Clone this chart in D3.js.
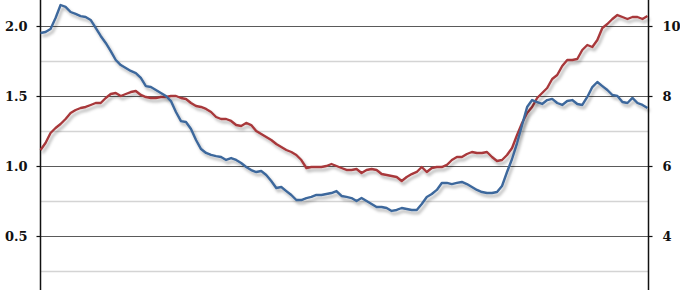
<!DOCTYPE html>
<html>
<head>
<meta charset="utf-8">
<script src="https://cdn.jsdelivr.net/npm/d3@7"></script>
<style>
  html, body { margin: 0; padding: 0; background: #fff; }
  svg { display: block; }
  .axis text { font-family: "DejaVu Serif", serif; font-weight: bold; font-size: 13px; fill: #111; }
</style>
</head>
<body>
<svg id="chart" width="680" height="290"></svg>
<script>
// Left-axis series (blue)
const blueSeries = [
  1.95, 1.957, 1.979, 2.057, 2.15, 2.136, 2.10, 2.086, 2.071, 2.064,
  2.043, 1.986, 1.929, 1.879, 1.821, 1.757, 1.721, 1.70, 1.679, 1.664,
  1.629, 1.571, 1.564, 1.543, 1.521, 1.50, 1.464, 1.386, 1.321, 1.314,
  1.264, 1.186, 1.121, 1.093, 1.079, 1.071, 1.064, 1.043, 1.057, 1.043,
  1.021, 0.993, 0.971, 0.957, 0.964, 0.936, 0.893, 0.843, 0.85, 0.821,
  0.793, 0.757, 0.757, 0.771, 0.779, 0.793, 0.793, 0.80, 0.807, 0.821,
  0.786, 0.779, 0.771, 0.75, 0.771, 0.75, 0.729, 0.707, 0.707, 0.70,
  0.679, 0.686, 0.70, 0.693, 0.686, 0.686, 0.729, 0.779, 0.80, 0.829,
  0.879, 0.879, 0.871, 0.879, 0.886, 0.871, 0.85, 0.829, 0.814, 0.807,
  0.807, 0.814, 0.857, 0.957, 1.05, 1.164, 1.293, 1.421, 1.471, 1.457,
  1.443, 1.471, 1.479, 1.45, 1.436, 1.464, 1.471, 1.443, 1.436, 1.493,
  1.564, 1.60, 1.571, 1.543, 1.507, 1.50, 1.457, 1.45, 1.486, 1.45,
  1.436, 1.414
];
// Right-axis series (red)
const redSeries = [
  6.457, 6.657, 6.943, 7.086, 7.20, 7.343, 7.514, 7.60, 7.657, 7.686,
  7.743, 7.80, 7.80, 7.943, 8.057, 8.086, 8.00, 8.057, 8.114, 8.143,
  8.029, 7.971, 7.943, 7.943, 7.971, 7.971, 8.00, 8.00, 7.943, 7.914,
  7.80, 7.714, 7.686, 7.629, 7.543, 7.40, 7.343, 7.343, 7.286, 7.171,
  7.143, 7.229, 7.171, 7.00, 6.914, 6.829, 6.743, 6.629, 6.543, 6.457,
  6.40, 6.314, 6.171, 5.943, 5.971, 5.971, 5.971, 6.00, 6.057, 6.00,
  5.943, 5.886, 5.886, 5.914, 5.80, 5.886, 5.914, 5.886, 5.771, 5.743,
  5.714, 5.686, 5.571, 5.686, 5.771, 5.829, 5.971, 5.829, 5.943, 5.971,
  5.971, 6.029, 6.171, 6.257, 6.257, 6.343, 6.40, 6.371, 6.371, 6.40,
  6.257, 6.143, 6.171, 6.314, 6.514, 6.886, 7.229, 7.514, 7.686, 7.943,
  8.086, 8.229, 8.486, 8.60, 8.857, 9.029, 9.029, 9.057, 9.314, 9.457,
  9.40, 9.60, 9.943, 10.057, 10.20, 10.314, 10.257, 10.20, 10.257, 10.257,
  10.20, 10.286
];
const leftTicks = [0.5, 1.0, 1.5, 2.0];
const rightTicks = [4, 6, 8, 10];
const gridValues = [0.25, 0.5, 0.75, 1.0, 1.25, 1.5, 1.75, 2.0];

const W = 680, H = 290;
const xLeft = 40.5, xRight = 648.5;
const svg = d3.select("#chart");

const defs = svg.append("defs");
const f = defs.append("filter").attr("id", "shadow")
  .attr("x", "-5%").attr("y", "-20%").attr("width", "110%").attr("height", "140%");
f.append("feDropShadow").attr("dx", 2).attr("dy", 3).attr("stdDeviation", 1.4)
  .attr("flood-color", "#000").attr("flood-opacity", 0.3);

const x = d3.scaleLinear().domain([0, blueSeries.length - 1]).range([xLeft, xRight - 1]);
const yL = d3.scaleLinear().domain([2.0, 0.5]).range([26, 236]);
const yR = d3.scaleLinear().domain([10, 4]).range([26, 236]);

// gridlines
svg.append("g").selectAll("line").data(gridValues).join("line")
  .attr("x1", xLeft).attr("x2", xRight)
  .attr("y1", d => Math.round(yL(d)) + 0.5).attr("y2", d => Math.round(yL(d)) + 0.5)
  .attr("stroke", d => (Math.abs(d * 2 - Math.round(d * 2)) < 1e-9) ? "#5a5a5a" : "#d4d4d4")
  .attr("stroke-width", d => (Math.abs(d * 2 - Math.round(d * 2)) < 1e-9) ? 1.2 : 1.5);

// axes
const axL = svg.append("g").attr("class", "axis").attr("transform", `translate(${xLeft},0)`)
  .call(d3.axisLeft(yL).tickValues(leftTicks).tickFormat(d3.format(".1f")).tickSize(4).tickPadding(9));
axL.select(".domain").remove();
axL.selectAll(".tick line").attr("stroke", "#111").attr("stroke-width", 1.2);

const axR = svg.append("g").attr("class", "axis").attr("transform", `translate(${xRight},0)`)
  .call(d3.axisRight(yR).tickValues(rightTicks).tickFormat(d3.format("d")).tickSize(4).tickPadding(10));
axR.select(".domain").remove();
axR.selectAll(".tick line").attr("stroke", "#111").attr("stroke-width", 1.2);

svg.append("line").attr("x1", xLeft).attr("x2", xLeft).attr("y1", 0).attr("y2", H)
  .attr("stroke", "#111").attr("stroke-width", 1.5);
svg.append("line").attr("x1", xRight).attr("x2", xRight).attr("y1", 0).attr("y2", H)
  .attr("stroke", "#111").attr("stroke-width", 1.5);

// series
const lineL = d3.line().x((d, i) => x(i)).y(d => yL(d)).curve(d3.curveLinear);
const lineR = d3.line().x((d, i) => x(i)).y(d => yR(d)).curve(d3.curveLinear);

svg.append("path").datum(redSeries).attr("d", lineR)
  .attr("fill", "none").attr("stroke", "#a8393b").attr("stroke-width", 2.4)
  .attr("stroke-linejoin", "round").attr("filter", "url(#shadow)");
svg.append("path").datum(blueSeries).attr("d", lineL)
  .attr("fill", "none").attr("stroke", "#3c679c").attr("stroke-width", 2.4)
  .attr("stroke-linejoin", "round").attr("filter", "url(#shadow)");
</script>
</body>
</html>
